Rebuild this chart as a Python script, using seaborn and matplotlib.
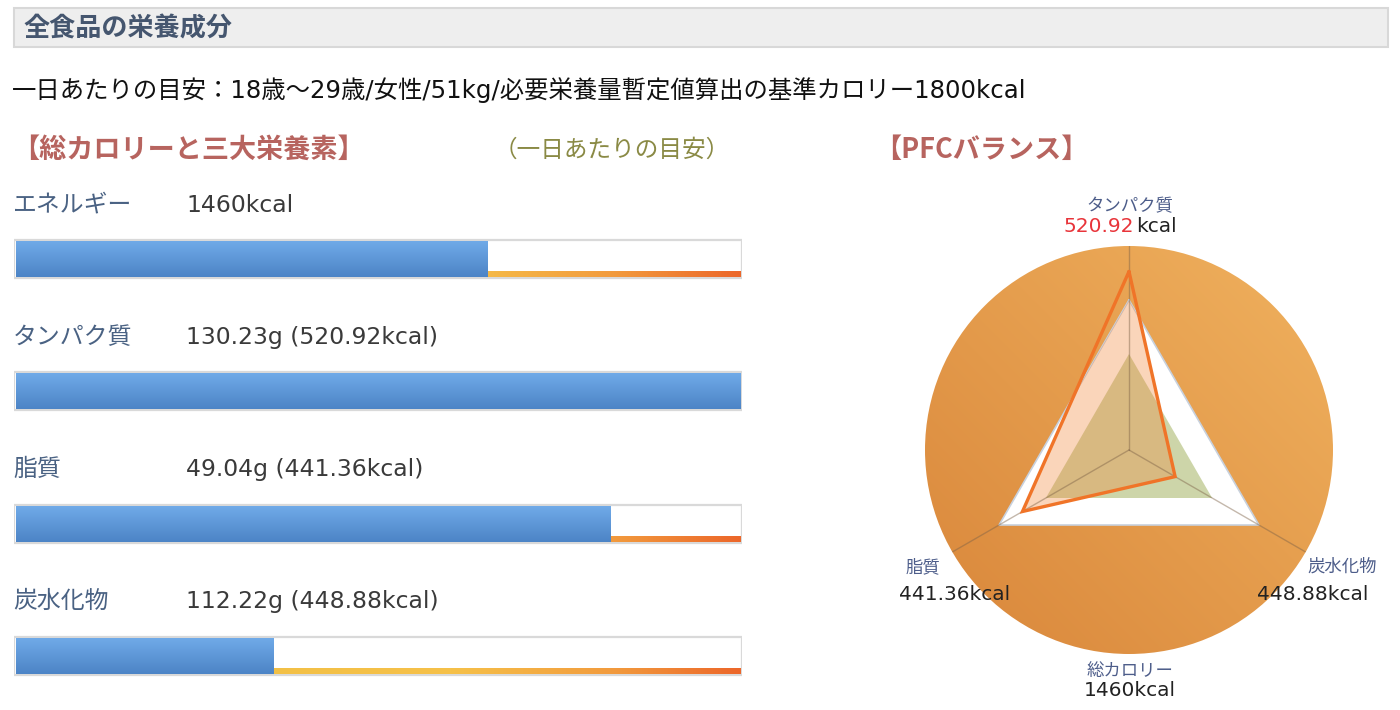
import numpy as np
import pandas as pd
import matplotlib
matplotlib.use("Agg")
import matplotlib.pyplot as plt
import matplotlib.transforms as mtransforms
from matplotlib.patches import Rectangle, Circle
from matplotlib.colors import to_rgb, LinearSegmentedColormap
import seaborn as sns

# ---------------- data ----------------
page_title = "全食品の栄養成分"
guideline = "一日あたりの目安：18歳〜29歳/女性/51kg/必要栄養量暫定値算出の基準カロリー1800kcal"
section_left = "【総カロリーと三大栄養素】"
section_note = "（一日あたりの目安）"
section_right = "【PFCバランス】"

nutrients = ["エネルギー", "タンパク質", "脂質", "炭水化物"]
amount_text = ["1460kcal", "130.23g (520.92kcal)", "49.04g (441.36kcal)", "112.22g (448.88kcal)"]
target_pct = [65, 119, 82, 35.5]          # intake as % of the daily guideline

radar_names = ["タンパク質", "炭水化物", "脂質"]
radar_kcal = ["520.92", "448.88", "441.36"]
radar_ratio = [1.19, 0.355, 0.82]          # PFC intake vs guideline
energy_ratio = 0.64                         # total energy vs guideline
total_name = "総カロリー"
total_kcal = "1460"

# ---------------- style ----------------
sns.set_theme(style="white")
LATIN = ["DejaVu Sans", "Noto Sans CJK JP"]
CJK = ["Noto Sans CJK JP", "DejaVu Sans"]
plt.rcParams["font.family"] = LATIN

W, H = 1400, 710
fig = plt.figure(figsize=(W / 100, H / 100), dpi=100)
fig.patch.set_facecolor("white")


def fx(x):
    return x / W


def fy(y):
    return 1 - y / H


def T(x, y, s, **kw):
    return fig.text(fx(x), fy(y + 2), s, **kw)


# header box
fig.patches.append(Rectangle((fx(14), fy(47)), fx(1374), 39 / H, transform=fig.transFigure,
                             facecolor="#eeeeee", edgecolor="#d8d8d8", lw=1.5, zorder=0))
T(23, 27, page_title, fontsize=18.8, fontweight="bold", color="#45566f", va="center", ha="left",
  family=CJK)
T(12, 88, guideline, fontsize=17.55, color="#111111", va="center", ha="left")
T(12, 148, section_left, fontsize=19.5, fontweight="bold", color="#b7645f", va="center", ha="left",
  family=CJK)
T(494, 148, section_note, fontsize=17, color="#8a8a45", va="center", ha="left", family=CJK)
T(874, 148, section_right, fontsize=19.5, fontweight="bold", color="#b7645f", va="center", ha="left",
  family=CJK)

# ---------------- bars ----------------
bar_left, bar_right = 14, 742
row0, row_step = 259, 132.3
ax_top, ax_bot = 170, 700
ax = fig.add_axes([fx(bar_left), fy(ax_bot), (bar_right - bar_left) / W, (ax_bot - ax_top) / H])

df = pd.DataFrame({"nutrient": nutrients, "pct": np.minimum(target_pct, 100)})
frame_h = 38 / row_step
blue_h = 36 / row_step
sns.barplot(data=df, x="pct", y="nutrient", orient="h", width=blue_h, color="#5b93d6",
            ax=ax, zorder=3, linewidth=0)

px_per_unit = (bar_right - bar_left - 3) / 100
xlim = (-2 / px_per_unit, 100 + 1 / px_per_unit)

blue_top, blue_bot = np.array(to_rgb("#70aae8")), np.array(to_rgb("#4c84c6"))
grad_v = np.linspace(0, 1, 64)[:, None, None]
blue_img = blue_top * (1 - grad_v) + blue_bot * grad_v

stripe_cmap = LinearSegmentedColormap.from_list(
    "stripe", [(0, "#eec043"), (0.6, "#f6c149"), (0.82, "#f29c3e"), (1, "#ec672a")])
stripe_img = stripe_cmap(np.linspace(0, 1, 512))[None, :, :3]

for p in list(ax.patches):
    x0, y0, w, h = p.get_x(), p.get_y(), p.get_width(), p.get_height()
    c = y0 + h / 2
    im = ax.imshow(blue_img, extent=(x0, x0 + w, y0 + h, y0), aspect="auto", zorder=3,
                   interpolation="bilinear")
    im.set_clip_path(p)
    p.set_facecolor("none")
    ax.add_patch(Rectangle((xlim[0], c - frame_h / 2), xlim[1] - xlim[0], frame_h,
                           facecolor="white", edgecolor="#d9d9d9", lw=1.6, zorder=1))
    ax.imshow(stripe_img, extent=(0, 100, c + blue_h / 2, c + blue_h / 2 - 5.5 / row_step),
              aspect="auto", zorder=2, interpolation="bilinear")

ax.set_xlim(*xlim)
ax.set_ylim((ax_bot - row0) / row_step, (ax_top - row0) / row_step)
ax.axis("off")

lab_tr = mtransforms.blended_transform_factory(fig.transFigure, ax.transData)
for i, (name, txt) in enumerate(zip(nutrients, amount_text)):
    yy = i - 54 / row_step
    ax.text(fx(13), yy, name, transform=lab_tr, fontsize=17.2, color="#4a6283", va="center",
            ha="left", family=CJK)
    ax.text(fx(186), yy, txt, transform=lab_tr, fontsize=16.9, color="#3a3a3a", va="center",
            ha="left")

# ---------------- radar ----------------
cx, cy, R_px, unit_px = 1129, 450, 204, 150
pos = [fx(cx - R_px), fy(cy + R_px), 2 * R_px / W, 2 * R_px / H]

bg = fig.add_axes(pos)
bg.set_xlim(-1, 1)
bg.set_ylim(-1, 1)
bg.axis("off")
u = np.linspace(0, 1, 256)
gx, gy = np.meshgrid(u, u[::-1])
tgrad = np.clip((gx + gy) / 2, 0, 1)[..., None]
c_dark, c_light = np.array(to_rgb("#d9863a")), np.array(to_rgb("#f0b25f"))
circ_img = c_dark * (1 - tgrad) + c_light * tgrad
cim = bg.imshow(circ_img, extent=(-1, 1, -1, 1), interpolation="bilinear")
cim.set_clip_path(Circle((0, 0), 1, transform=bg.transData))

pax = fig.add_axes(pos, projection="polar")
pax.patch.set_alpha(0)
Rmax = R_px / unit_px
pax.set_ylim(0, Rmax)
pax.grid(False)
pax.set_xticks([])
pax.set_yticks([])
pax.spines["polar"].set_visible(False)

theta = np.deg2rad([90, 330, 210])
th_c = np.append(theta, theta[0])

tri = pax.fill(th_c, [1, 1, 1, 1], color="white", lw=0, zorder=1)[0]
pax.plot(th_c, [1, 1, 1, 1], color="#c8d1dd", lw=1.2, zorder=2)
pax.fill(th_c, [energy_ratio] * 4, color="#9cad55", alpha=0.5, lw=0, zorder=3)
ratio_c = np.append(radar_ratio, radar_ratio[0])
peach = pax.fill(th_c, ratio_c, color="#f08030", alpha=0.33, lw=0, zorder=4)[0]
peach.set_clip_path(tri)
for t in theta:
    pax.plot([t, t], [0, Rmax], color="#7d6247", alpha=0.45, lw=1.0, zorder=5)
pax.plot(th_c, ratio_c, color="#f07428", lw=2.4, zorder=6, solid_joinstyle="miter")

# radar labels
name_col = "#4d5d8a"
T(1130, 204, radar_names[0], fontsize=12.5, color=name_col, ha="center", va="center", family=CJK)
T(1134, 225, radar_kcal[0], fontsize=14.5, color="#e8343a", ha="right", va="center")
T(1136, 225, "kcal", fontsize=14.5, color="#222222", ha="left", va="center")
T(1342, 565, radar_names[1], fontsize=12.5, color=name_col, ha="center", va="center", family=CJK)
T(1313, 592, radar_kcal[1] + "kcal", fontsize=14.5, color="#222222", ha="center", va="center")
T(923, 565, radar_names[2], fontsize=12.5, color=name_col, ha="center", va="center", family=CJK)
T(955, 592, radar_kcal[2] + "kcal", fontsize=14.5, color="#222222", ha="center", va="center")
T(1130, 669, total_name, fontsize=12.5, color=name_col, ha="center", va="center", family=CJK)
T(1130, 689, total_kcal + "kcal", fontsize=14.5, color="#222222", ha="center", va="center")

fig.savefig("out.png", dpi=100, facecolor="white")
